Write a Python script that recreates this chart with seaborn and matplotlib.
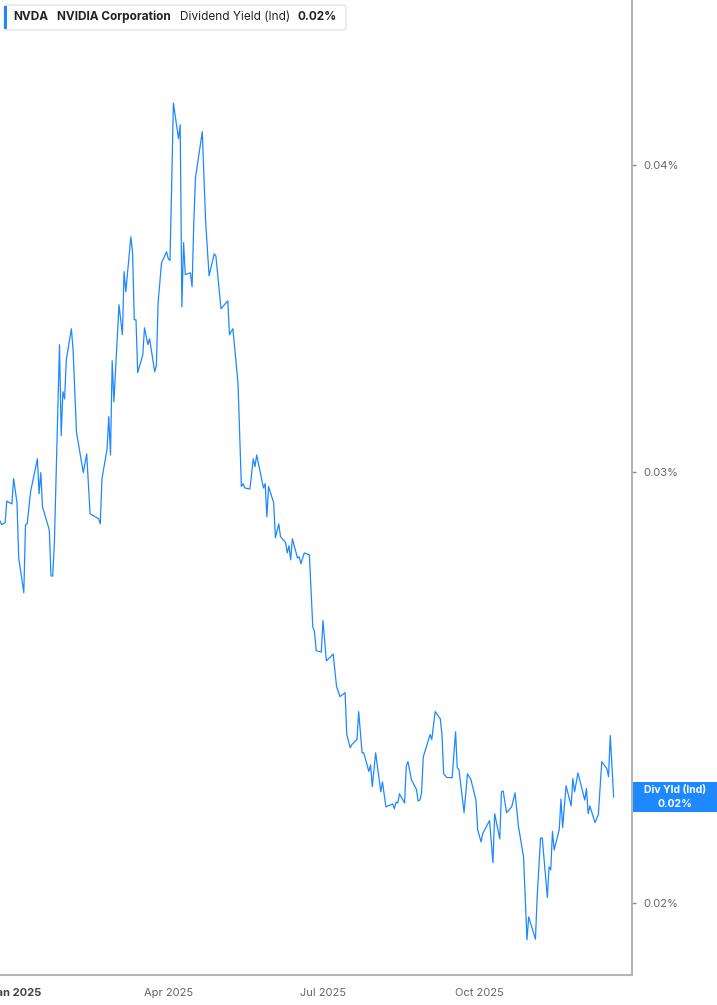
import pandas as pd
import numpy as np
import seaborn as sns
import matplotlib.pyplot as plt
from matplotlib.patches import FancyBboxPatch, Rectangle
from matplotlib.ticker import FixedLocator, NullLocator, FuncFormatter

# NVDA dividend yield (indicated), in percent
dates = [
    "2024-12-23", "2024-12-24", "2024-12-26", "2024-12-27", "2024-12-30", "2024-12-31",
    "2025-01-02", "2025-01-03", "2025-01-06", "2025-01-07", "2025-01-08", "2025-01-10",
    "2025-01-14", "2025-01-15", "2025-01-16", "2025-01-17", "2025-01-21", "2025-01-22",
    "2025-01-23", "2025-01-24", "2025-01-27", "2025-01-28", "2025-01-29", "2025-01-30",
    "2025-01-31", "2025-02-03", "2025-02-04", "2025-02-06", "2025-02-10", "2025-02-12",
    "2025-02-14", "2025-02-19", "2025-02-20", "2025-02-21", "2025-02-24", "2025-02-25",
    "2025-02-26", "2025-02-27", "2025-02-28", "2025-03-03", "2025-03-05", "2025-03-06",
    "2025-03-07", "2025-03-10", "2025-03-11", "2025-03-12", "2025-03-13", "2025-03-14",
    "2025-03-17", "2025-03-18", "2025-03-20", "2025-03-21", "2025-03-24", "2025-03-25",
    "2025-03-26", "2025-03-28", "2025-03-31", "2025-04-01", "2025-04-02", "2025-04-03",
    "2025-04-04", "2025-04-07", "2025-04-08", "2025-04-09", "2025-04-10", "2025-04-11",
    "2025-04-14", "2025-04-15", "2025-04-16", "2025-04-17", "2025-04-21", "2025-04-23",
    "2025-04-25", "2025-04-28", "2025-04-29", "2025-05-02", "2025-05-06", "2025-05-07",
    "2025-05-09", "2025-05-12", "2025-05-14", "2025-05-15", "2025-05-16", "2025-05-19",
    "2025-05-21", "2025-05-22", "2025-05-23", "2025-05-27", "2025-05-28", "2025-05-29",
    "2025-05-30", "2025-06-02", "2025-06-03", "2025-06-05", "2025-06-06", "2025-06-09",
    "2025-06-10", "2025-06-11", "2025-06-12", "2025-06-13", "2025-06-16", "2025-06-17",
    "2025-06-18", "2025-06-20", "2025-06-23", "2025-06-25", "2025-06-26", "2025-06-27",
    "2025-06-30", "2025-07-01", "2025-07-03", "2025-07-07", "2025-07-09", "2025-07-11",
    "2025-07-14", "2025-07-15", "2025-07-17", "2025-07-18", "2025-07-21", "2025-07-22",
    "2025-07-24", "2025-07-25", "2025-07-28", "2025-07-29", "2025-07-30", "2025-08-01",
    "2025-08-04", "2025-08-05", "2025-08-07", "2025-08-11", "2025-08-12", "2025-08-13",
    "2025-08-14", "2025-08-15", "2025-08-18", "2025-08-19", "2025-08-20", "2025-08-22",
    "2025-08-25", "2025-08-26", "2025-08-27", "2025-08-28", "2025-08-29", "2025-09-02",
    "2025-09-03", "2025-09-05", "2025-09-08", "2025-09-09", "2025-09-10", "2025-09-12",
    "2025-09-15", "2025-09-17", "2025-09-18", "2025-09-19", "2025-09-22", "2025-09-24",
    "2025-09-26", "2025-09-29", "2025-09-30", "2025-10-02", "2025-10-03", "2025-10-07",
    "2025-10-09", "2025-10-10", "2025-10-13", "2025-10-14", "2025-10-15", "2025-10-17",
    "2025-10-20", "2025-10-22", "2025-10-24", "2025-10-27", "2025-10-29", "2025-10-30",
    "2025-11-03", "2025-11-04", "2025-11-06", "2025-11-07", "2025-11-10", "2025-11-11",
    "2025-11-12", "2025-11-13", "2025-11-14", "2025-11-17", "2025-11-18", "2025-11-19",
    "2025-11-21", "2025-11-24", "2025-11-25", "2025-11-26", "2025-11-28", "2025-12-02",
    "2025-12-03", "2025-12-04", "2025-12-05", "2025-12-08", "2025-12-10", "2025-12-12",
    "2025-12-15", "2025-12-16", "2025-12-17", "2025-12-19",
]
div_yield = [
    0.02864, 0.02854, 0.02859, 0.02918, 0.02910, 0.02980,
    0.02913, 0.02766, 0.02677, 0.02854, 0.02856, 0.02944,
    0.03036, 0.02938, 0.02997, 0.02902, 0.02840, 0.02720,
    0.02719, 0.02806, 0.03380, 0.03103, 0.03234, 0.03212,
    0.03332, 0.03431, 0.03363, 0.03112, 0.02997, 0.03050,
    0.02883, 0.02870, 0.02856, 0.02980, 0.03065, 0.03159,
    0.03047, 0.03329, 0.03203, 0.03509, 0.03412, 0.03620,
    0.03552, 0.03741, 0.03684, 0.03460, 0.03460, 0.03292,
    0.03348, 0.03434, 0.03380, 0.03399, 0.03295, 0.03314,
    0.03515, 0.03650, 0.03688, 0.03664, 0.03658, 0.03928,
    0.04242, 0.04102, 0.04156, 0.03502, 0.03720, 0.03610,
    0.03616, 0.03569, 0.03790, 0.03954, 0.04129, 0.03790,
    0.03606, 0.03681, 0.03674, 0.03496, 0.03522, 0.03412,
    0.03431, 0.03261, 0.02958, 0.02966, 0.02954, 0.02951,
    0.03036, 0.03014, 0.03047, 0.02954, 0.02966, 0.02875,
    0.02958, 0.02913, 0.02819, 0.02856, 0.02822, 0.02806,
    0.02779, 0.02798, 0.02761, 0.02816, 0.02766, 0.02769,
    0.02751, 0.02779, 0.02774, 0.02593, 0.02581, 0.02535,
    0.02532, 0.02608, 0.02511, 0.02527, 0.02451, 0.02428,
    0.02437, 0.02343, 0.02314, 0.02321, 0.02332, 0.02394,
    0.02303, 0.02303, 0.02263, 0.02277, 0.02231, 0.02303,
    0.02220, 0.02241, 0.02189, 0.02195, 0.02185, 0.02199,
    0.02197, 0.02216, 0.02197, 0.02275, 0.02284, 0.02246,
    0.02225, 0.02201, 0.02203, 0.02218, 0.02294, 0.02343,
    0.02332, 0.02394, 0.02378, 0.02343, 0.02258, 0.02250,
    0.02250, 0.02349, 0.02271, 0.02267, 0.02177, 0.02258,
    0.02246, 0.02203, 0.02143, 0.02118, 0.02135, 0.02161,
    0.02077, 0.02175, 0.02124, 0.02220, 0.02222, 0.02177,
    0.02189, 0.02218, 0.02149, 0.02088, 0.01932, 0.01974,
    0.01933, 0.02011, 0.02126, 0.02126, 0.02010, 0.02069,
    0.02063, 0.02139, 0.02102, 0.02143, 0.02205, 0.02147,
    0.02233, 0.02191, 0.02248, 0.02220, 0.02260, 0.02203,
    0.02227, 0.02175, 0.02191, 0.02157, 0.02173, 0.02284,
    0.02269, 0.02252, 0.02341, 0.02209,
]

y_ticks = [0.02, 0.03, 0.04]
x_ticks = ["2025-01-01", "2025-04-01", "2025-07-01", "2025-10-01"]
x_tick_labels = ["Jan 2025", "Apr 2025", "Jul 2025", "Oct 2025"]

LINE = "#1e88ff"
GREY_TXT = "#666666"
SPINE = "#b5b5b5"

sns.set_style("white")
plt.rcParams['font.family'] = ['Inter', 'DejaVu Sans']

df = pd.DataFrame({"date": pd.to_datetime(dates), "yield": div_yield})

W, H = 717, 1005
fig = plt.figure(figsize=(W / 100, H / 100), dpi=100)
ax = fig.add_axes([0, 30 / H, 632 / W, 975 / H])

sns.lineplot(data=df, x="date", y="yield", ax=ax, color=LINE, lw=0.9)

ax.set_yscale("log")
ax.set_ylim(0.01869, 0.04673)
ax.set_xlim(pd.Timestamp("2024-12-23"), pd.Timestamp("2025-12-29 19:00"))

# y axis on the right
ax.yaxis.tick_right()
ax.yaxis.set_major_locator(FixedLocator(y_ticks))
ax.yaxis.set_minor_locator(NullLocator())
ax.yaxis.set_major_formatter(FuncFormatter(lambda v, p: f"{v:.2f}%"))
ax.tick_params(axis="y", length=3, width=1, color="#888888", pad=5,
               labelsize=8, labelcolor=GREY_TXT)

ax.set_xticks(pd.to_datetime(x_ticks))
ax.set_xticklabels(x_tick_labels)
ax.tick_params(axis="x", length=4, width=1, color="#999999", pad=5,
               labelsize=8, labelcolor=GREY_TXT)
first = ax.get_xticklabels()[0]
first.set_fontweight("bold")
first.set_color("#444444")

ax.set_xlabel("")
ax.set_ylabel("")
for s in ["top", "left"]:
    ax.spines[s].set_visible(False)
for s in ["right", "bottom"]:
    ax.spines[s].set_color(SPINE)
    ax.spines[s].set_linewidth(1.5)

# last value tag on the right
fig.canvas.draw()
last_y = ax.transData.transform((ax.get_xlim()[0], div_yield[-1]))[1]
fig.patches.append(Rectangle((633, last_y - 15), W - 633, 30, transform=None,
                             facecolor=LINE, edgecolor="none"))
fig.text(675 / W, (last_y + 7) / H, "Div Yld (Ind)", ha="center", va="center",
         color="white", fontsize=7.5, fontweight="bold")
fig.text(675 / W, (last_y - 7) / H, f"{div_yield[-1]:.2f}%", ha="center", va="center",
         color="white", fontsize=7.5, fontweight="bold")

# header box
fig.patches.append(FancyBboxPatch((4, H - 30), 342, 25, transform=None,
                                  boxstyle="round,pad=0,rounding_size=3",
                                  facecolor="white", edgecolor="#e3e3e3", lw=1))
fig.patches.append(Rectangle((4, H - 29), 3, 23, transform=None,
                             facecolor=LINE, edgecolor="none"))
ty = (H - 17) / H
fig.text(13 / W, ty, "NVDA", ha="left", va="center", fontsize=8.5,
         fontweight="bold", color="#222222")
fig.text(57 / W, ty, "NVIDIA Corporation", ha="left", va="center", fontsize=8.5,
         fontweight="bold", color="#222222")
fig.text(180 / W, ty, "Dividend Yield (Ind)", ha="left", va="center", fontsize=8.5,
         color="#222222")
fig.text(297 / W, ty, "0.02%", ha="left", va="center", fontsize=8.5,
         fontweight="bold", color="#222222")

fig.savefig("out.png", dpi=100)
